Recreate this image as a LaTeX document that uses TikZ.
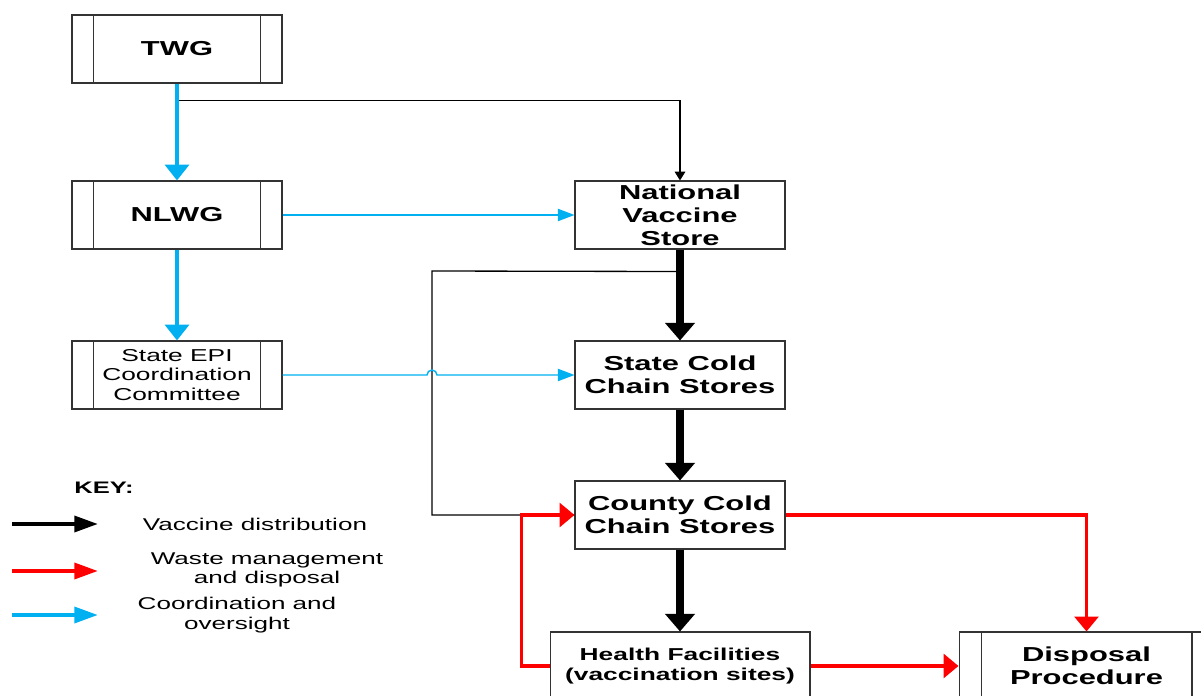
\documentclass[tikz,border=0pt]{standalone}
\usepackage{fontspec}
\setmainfont{Liberation Sans}[FakeStretch=1.53]
\usetikzlibrary{arrows.meta,calc}

\definecolor{oversight}{RGB}{0,176,240}
\definecolor{waste}{RGB}{255,0,0}

\tikzset{
  box/.style={draw=black!80, line width=0.6pt, fill=white, align=center,
              inner sep=0pt, minimum width=4.2cm, minimum height=1.36cm},
  bigtxt/.style={font=\bfseries\fontsize{11.5}{13.1}\selectfont},
  smalltxt/.style={font=\fontsize{9.8}{11}\selectfont},
  hftxt/.style={font=\bfseries\fontsize{9.8}{11.4}\selectfont},
  keytxt/.style={font=\fontsize{9.7}{11}\selectfont, align=center},
  sideline/.style={draw=black!80, line width=0.6pt},
  distthick/.style={line width=4pt, -{Triangle[length=10pt,width=16.5pt]}},
  distthin/.style={line width=0.75pt},
  coordthick/.style={draw=oversight, line width=2.8pt, -{Triangle[length=9pt,width=13.5pt]}},
  coordthin/.style={draw=oversight, line width=0.8pt, -{Triangle[length=9.5pt,width=7pt]}},
  wasteline/.style={draw=waste, line width=2.2pt, -{Triangle[length=8.5pt,width=13.5pt]}},
  keyarrow/.style={line width=2.3pt, -{Triangle[length=13.5pt,width=9pt]}}
}

\begin{document}
\begin{tikzpicture}[x=0.02cm,y=-0.02cm]
\useasboundingbox (0,0) rectangle (1201,696);

% left column: coordination bodies
\node[box, bigtxt] (twg)  at (177,49)  {TWG};
\node[box, bigtxt] (nlwg) at (177,215) {NLWG};
\node[box, smalltxt] (epi) at (177,375) {State EPI\\Coordination\\Committee};

% right column: cold chain
\node[box, bigtxt] (nvs)    at (680,215) {National\\Vaccine\\Store};
\node[box, bigtxt] (scs)    at (680,375) {State Cold\\Chain Stores};
\node[box, bigtxt] (county) at (680,515) {County Cold\\Chain Stores};
\node[box, hftxt, minimum width=5.2cm] (hf) at (680,666) {Health Facilities\\(vaccination sites)};
\node[box, bigtxt, minimum width=5.1cm] (disp) at (1086.5,666) {Disposal\\Procedure};

% double side bars of the process boxes
\foreach \n in {twg,nlwg,epi}
  \draw[sideline] ([xshift=0.44cm]\n.north west) -- ([xshift=0.44cm]\n.south west)
                  ([xshift=-0.44cm]\n.north east) -- ([xshift=-0.44cm]\n.south east);
\draw[sideline] ([xshift=0.46cm]disp.north west) -- ([xshift=0.46cm]disp.south west)
                ([xshift=-0.45cm]disp.north east) -- ([xshift=-0.45cm]disp.south east);

% helper points
\coordinate (bend) at (432,271);
\coordinate (jumpL) at (427,375);

% vaccine distribution
\draw[distthin, -{Triangle[length=5pt,width=6pt]}] (twg.south) -- ++(0,17) -| (nvs.north);
\draw[distthin] (nvs.south) ++(0,22) -- (bend) |- (county.west);
\draw[distthick] (nvs.south) -- (scs.north);
\draw[distthick] (scs.south) -- (county.north);
\draw[distthick] (county.south) -- (hf.north);

% coordination and oversight
\draw[coordthick] (twg.south) -- (nlwg.north);
\draw[coordthick] (nlwg.south) -- (epi.north);
\draw[coordthin] (nlwg.east) -- (nvs.west);
\draw[coordthin] (epi.east) -- (jumpL) arc[start angle=180,end angle=0,radius=0.1cm] -- (scs.west);

% waste management and disposal
\draw[wasteline] (hf.west) -- ++(-28,0) |- (county.west);
\draw[wasteline] (county.east) -| (disp.north);
\draw[wasteline] (hf.east) -- (disp.west);

% key
\node[font=\bfseries\fontsize{9.5}{11}\selectfont] (key) at (104,488) {KEY:};
\coordinate (k1a) at (12,524);  \coordinate (k1b) at (98,524);
\coordinate (k2a) at (12,571);  \coordinate (k2b) at (98,571);
\coordinate (k3a) at (12,615);  \coordinate (k3b) at (98,615);
\draw[keyarrow, black] (k1a) -- (k1b);
\draw[keyarrow, waste] (k2a) -- (k2b);
\draw[keyarrow, oversight] (k3a) -- (k3b);
\node[keytxt] (kt1) at (255,524) {Vaccine distribution};
\node[keytxt] (kt2) at (267,570) {Waste management\\and disposal};
\node[keytxt] (kt3) at (237,615) {Coordination and\\oversight};
\end{tikzpicture}
\end{document}
